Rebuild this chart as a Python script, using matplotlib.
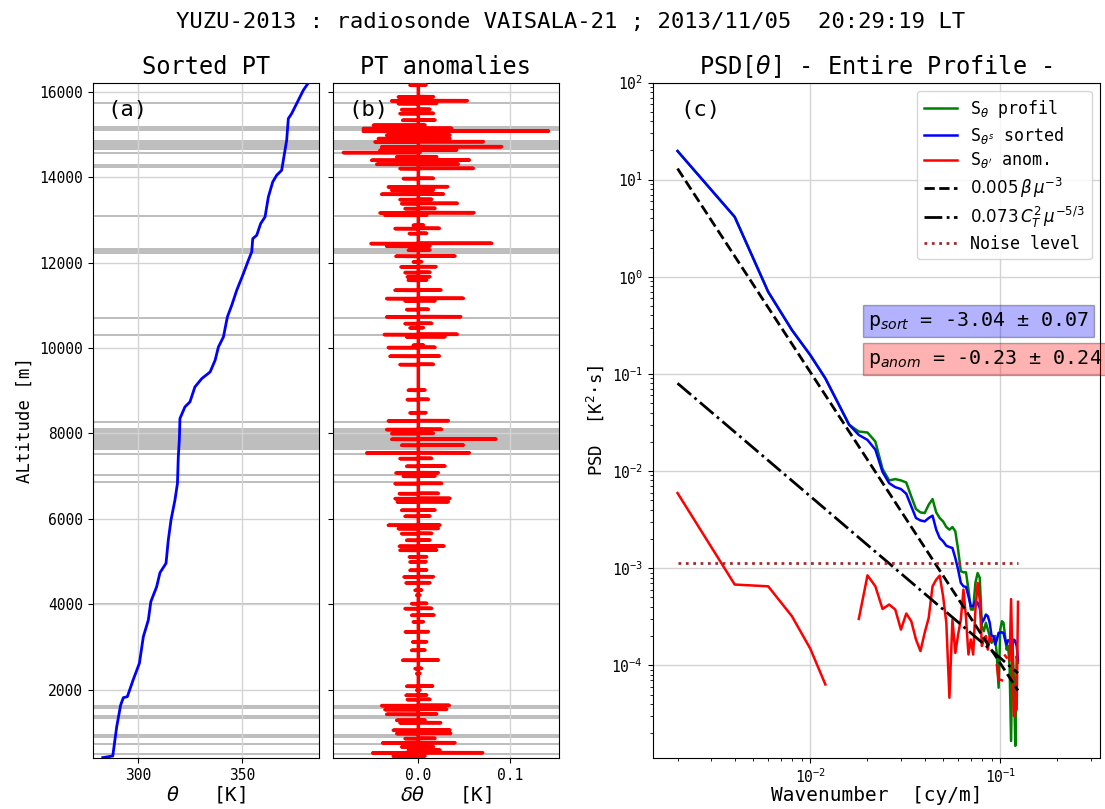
import numpy as np
import matplotlib
matplotlib.use('Agg')
import matplotlib.pyplot as plt
from matplotlib.ticker import LogLocator, NullFormatter

plt.rcParams['font.family'] = ['DejaVu Sans Mono', 'DejaVu Sans']

# ---------------- Panel (a): sorted potential temperature ----------------
alt_sorted = [410, 447, 1134, 1642, 1813, 1836, 2243, 2618, 3241, 3632, 4061, 4412,
              4740, 4960, 5506, 5974, 6443, 6833, 7450, 7848, 8351, 8623, 8740, 9091,
              9286, 9441, 9715, 10027, 10261, 10730, 11004, 11355, 11745, 12057, 12253,
              12564, 12642, 12916, 13072, 13540, 13892, 14048, 14165, 14399, 14867,
              15375, 15492, 15726, 15882, 16039, 16210]
theta_sorted = [282.9, 287.7, 289.6, 291.5, 292.8, 294.7, 297.6, 300.5, 302.4, 304.8,
                306.0, 308.8, 310.4, 313.3, 314.4, 315.7, 317.6, 318.8, 319.2, 319.7,
                320.0, 322.4, 324.8, 327.2, 330.5, 334.5, 336.9, 338.5, 340.9, 342.8,
                344.9, 347.3, 350.5, 352.9, 354.5, 355.0, 356.9, 358.8, 360.9, 362.5,
                364.6, 366.5, 368.9, 369.7, 371.3, 372.1, 373.7, 376.1, 377.7, 379.3,
                381.7]

# unstable layers (gray bands), bottom / top altitude [m]
band_bottom = [460, 700, 880, 1310, 1540, 3980, 6845, 7005, 7495, 7610, 8245, 10285,
               10675, 12200, 13075, 14210, 14550, 14650, 15080, 15720]
band_top = [510, 760, 960, 1410, 1640, 4020, 6895, 7055, 7545, 8117, 8295, 10335,
            10725, 12350, 13125, 14300, 14600, 14870, 15210, 15770]

# ---------------- Panel (b): PT anomalies (spike altitude, left, right) ----------------
spike_alt = [16158, 15884, 15791, 15728, 15588, 15494, 15338, 15221, 15143, 15080,
             14987, 14909, 14831, 14714, 14635, 14581, 14479, 14401, 14307, 14206,
             13972, 13777, 13699, 13605, 13480, 13386, 13269, 13168, 13113, 12879,
             12801, 12684, 12450, 12387, 12294, 12153, 12020, 11903, 11771, 11669,
             11591, 11357, 11162, 11107, 10904, 10732, 10576, 10475, 10319, 10264,
             10069, 10014, 9811, 9616, 9015, 8796, 8484, 8297, 8094, 8001, 7867,
             7726, 7546, 7414, 7234, 7078, 7000, 6828, 6594, 6477, 6399, 6204, 6063,
             5853, 5774, 5657, 5501, 5361, 5267, 5111, 4994, 4799, 4643, 4502, 4330,
             4213, 4018, 3901, 3745, 3589, 3355, 3120, 2925, 2691, 2496, 2379, 2082,
             1989, 1871, 1770, 1629, 1536, 1426, 1286, 1224, 1052, 974, 857, 755,
             662, 583, 521, 443]
spike_left = [-0.0091, -0.0218, -0.0291, -0.0218, -0.0182, -0.0200, -0.0171, -0.0490,
              -0.0600, -0.0600, -0.0345, -0.0436, -0.0473, -0.0400, -0.0418, -0.0818,
              -0.0236, -0.0509, -0.0454, -0.0200, -0.0164, -0.0327, -0.0290, -0.0400,
              -0.0200, -0.0182, -0.0145, -0.0418, -0.0364, -0.0055, -0.0254, -0.0098,
              -0.0516, -0.0345, -0.0109, -0.0244, -0.0055, -0.0189, -0.0145, -0.0120,
              -0.0109, -0.0254, -0.0345, -0.0145, -0.0127, -0.0345, -0.0145, -0.0091,
              -0.0371, -0.0127, -0.0055, -0.0327, -0.0309, -0.0200, -0.0109, -0.0120,
              -0.0091, -0.0327, -0.0345, -0.0290, -0.0290,
              -0.0182, -0.0563, -0.0200, -0.0127, -0.0244, -0.0164, -0.0254, -0.0207,
              -0.0254, -0.0229, -0.0182, -0.0145, -0.0327, -0.0218, -0.0182, -0.0127,
              -0.0207, -0.0200, -0.0098, -0.0091, -0.0091, -0.0156, -0.0134, -0.0036,
              -0.0018, -0.0073, -0.0145, -0.0073, -0.0055, -0.0142, -0.0062, -0.0073,
              -0.0171, -0.0036, -0.0018, -0.0127, -0.0018, -0.0134, -0.0120, -0.0400,
              -0.0364, -0.0345, -0.0236, -0.0200, -0.0273, -0.0236, -0.0145, -0.0389,
              -0.0182, -0.0109, -0.0498, -0.0273]
spike_right = [0.0084, 0.0164, 0.0534, 0.0200, 0.0127, 0.0164, 0.0182, 0.0073, 0.0364,
               0.1420, 0.0345, 0.0345, 0.0709, 0.0909, 0.0418, 0.0020, 0.0200, 0.0556,
               0.0436, 0.0600, 0.0164, 0.0320, 0.0164, 0.0273, 0.0145, 0.0425, 0.0182,
               0.0607, 0.0091, 0.0055, 0.0229, 0.0091, 0.0800, 0.0127, 0.0127, 0.0400,
               0.0036, 0.0193, 0.0127, 0.0127, 0.0091, 0.0247, 0.0491, 0.0182, 0.0109,
               0.0462, 0.0145, 0.0055, 0.0425, 0.0291, 0.0055, 0.0182, 0.0229, 0.0164,
               0.0073, 0.0109, 0.0084, 0.0327, 0.0254, 0.0164, 0.0847,
               0.0491, 0.0556, 0.0145, 0.0291, 0.0218, 0.0182, 0.0254, 0.0218, 0.0345,
               0.0327, 0.0182, 0.0127, 0.0236, 0.0218, 0.0145, 0.0127, 0.0280, 0.0200,
               0.0091, 0.0084, 0.0091, 0.0164, 0.0127, 0.0036, 0.0018, 0.0091, 0.0145,
               0.0171, 0.0055, 0.0109, 0.0091, 0.0073, 0.0218, 0.0036, 0.0018, 0.0156,
               0.0018, 0.0091, 0.0127, 0.0338, 0.0309, 0.0200, 0.0073, 0.0244, 0.0345,
               0.0353, 0.0182, 0.0400, 0.0164, 0.0236, 0.0702, 0.0073]
anom_start_end = [410, 16200]

# ---------------- Panel (c): spectra ----------------
wavenumber = np.round(np.arange(1, 63) * 0.002, 3)
psd_sorted = [19.7, 4.13, 0.70, 0.283, 0.156, 0.090, 0.050, 0.030, 0.0235, 0.0209,
              0.0166, 0.0098, 7.5e-3, 6.82e-3, 6.52e-3, 5.83e-3, 4.33e-3, 3.28e-3,
              3.10e-3, 3.03e-3, 3.28e-3, 3.47e-3, 2.49e-3, 2.04e-3, 1.89e-3, 1.70e-3,
              1.65e-3, 1.61e-3, 1.27e-3, 9.66e-4, 7.05e-4, 6.50e-4, 6.41e-4, 5.14e-4,
              4.06e-4, 4.06e-4, 4.56e-4, 4.39e-4, 3.90e-4, 2.74e-4, 2.95e-4, 3.33e-4,
              3.20e-4, 2.74e-4, 2.0e-4, 2.0e-4, 1.64e-4, 1.84e-4, 2.16e-4, 2.16e-4,
              2.19e-4, 2.14e-4, 1.84e-4, 1.64e-4, 1.81e-4, 1.77e-4, 1.70e-4, 1.64e-4,
              1.84e-4, 1.77e-4, 1.58e-4, 1.13e-4]
psd_profile = [19.7, 4.13, 0.70, 0.283, 0.156, 0.090, 0.050, 0.030, 0.0255, 0.0249,
               0.0201, 0.0105, 8.0e-3, 8.26e-3, 8.0e-3, 7.62e-3, 5.47e-3, 4.06e-3,
               3.75e-3, 3.69e-3, 4.50e-3, 5.14e-3, 3.75e-3, 3.28e-3, 3.03e-3, 2.65e-3,
               2.49e-3, 2.65e-3, 2.39e-3, 1.55e-3, 9.29e-4, 9.06e-4, 9.06e-4, 6.01e-4,
               3.75e-4, 3.75e-4, 7.08e-4, 8.91e-4, 7.94e-4, 2.52e-4, 2.24e-4, 2.74e-4,
               2.33e-4, 2.0e-4, 1.70e-4, 1.84e-4, 2.0e-4, 1.24e-4, 5.87e-5, 2.33e-4,
               2.84e-4, 2.74e-4, 2.0e-4, 1.45e-4, 1.58e-4, 9.8e-5, 1.66e-5, 1.70e-4,
               7.14e-5, 1.48e-5, 1.24e-4, 1.06e-4]
psd_anom = [5.93e-3, 6.78e-4, 6.50e-4, 3.20e-4, 1.48e-4, 6.35e-5, np.nan, np.nan,
            3.0e-4, 8.43e-4, 6.50e-4, 3.80e-4, 4.22e-4, 3.75e-4, 2.33e-4, 3.41e-4,
            2.84e-4, 1.84e-4, 1.40e-4, 2.16e-4, 3.08e-4, 6.50e-4, 7.62e-4, 8.38e-4,
            5.14e-4, 2.74e-4, 4.63e-5, 2.96e-4, 1.34e-4, 2.07e-4, 2.96e-4, 6.01e-4,
            3.08e-4, 1.29e-4, 1.84e-4, 1.29e-4, 3.75e-4, 7.05e-4, 4.75e-4, 1.58e-4,
            1.84e-4, 2.0e-4, 1.45e-4, 2.0e-4, 1.78e-4, np.nan, np.nan, 1.0e-4, 7.1e-5,
            7.1e-5, 7.0e-5, np.nan, 1.26e-4, 1.2e-4, np.nan, 1.12e-4, 4.8e-4, 1.0e-4,
            3.0e-5, 3.5e-5, 3.5e-5, 4.5e-4]
fit_k = [0.002, 0.124]
fit_beta = [13.0, 5.5e-5]
fit_ct2 = [0.080, 8.3e-5]
noise_level = 1.13e-3
p_sort = (-3.04, 0.07)
p_anom = (-0.23, 0.24)

# ---------------- Figure ----------------
W, H = 1105, 809
fig = plt.figure(figsize=(W / 100, H / 100), dpi=100)

def rect(x0, x1, y0, y1):
    return [x0 / W, 1 - y1 / H, (x1 - x0) / W, (y1 - y0) / H]

ax_a = fig.add_axes(rect(93, 318.7, 82.5, 758))
ax_b = fig.add_axes(rect(333.3, 558.7, 82.5, 758), sharey=ax_a)
ax_c = fig.add_axes(rect(652.7, 1100, 82.5, 758))

band_color = '#bebebe'
grid_kw = dict(color='#d3d3d3', lw=1.0)
tick_fs = 10.5

for ax in (ax_a, ax_b):
    for lo, hi in zip(band_bottom, band_top):
        ax.axhspan(lo, hi, color=band_color, lw=0, zorder=1)
    ax.grid(True, **grid_kw)
    ax.tick_params(labelsize=tick_fs)

# (a)
ax_a.plot(theta_sorted, alt_sorted, color='blue', lw=2, zorder=3)
ax_a.set_xlim(278.2, 386.7)
ax_a.set_ylim(400, 16220)
ax_a.set_xticks([300, 350])
ax_a.set_yticks(np.arange(2000, 16001, 2000))
ax_a.set_title('Sorted PT', fontsize=17)
ax_a.set_xlabel(r'$\theta$   [K]', fontsize=14, labelpad=1)
ax_a.set_ylabel('ALtitude [m]', fontsize=12.5)
ax_a.text(0.062, 0.96, '(a)', transform=ax_a.transAxes, fontsize=16, va='center')

# (b)
order = np.argsort(spike_alt)
b_alt = [anom_start_end[0]]
b_val = [0.0]
for i in order:
    a = spike_alt[i]
    b_alt += [a - 8, a - 3, a + 3, a + 8]
    b_val += [0.0, spike_left[i], spike_right[i], 0.0]
b_alt.append(anom_start_end[1])
b_val.append(0.0)
ax_b.plot(b_val, b_alt, color='red', lw=2.5, zorder=3, solid_joinstyle='round')
ax_b.set_xlim(-0.0927, 0.1531)
ax_b.set_xticks([0.0, 0.1])
ax_b.set_xticklabels(['0.0', '0.1'])
ax_b.tick_params(labelleft=False)
ax_b.set_title('PT anomalies', fontsize=17)
ax_b.set_xlabel(r'$\delta\theta$   [K]', fontsize=14, labelpad=1)
ax_b.text(0.066, 0.96, '(b)', transform=ax_b.transAxes, fontsize=16, va='center')

# (c)
ax_c.set_xscale('log')
ax_c.set_yscale('log')
ax_c.plot(wavenumber, psd_profile, color='green', lw=1.8, label=r'S$_\theta$ profil')
ax_c.plot(wavenumber, psd_sorted, color='blue', lw=1.8, label=r'S$_{\theta^s}$ sorted')
ax_c.plot(wavenumber, psd_anom, color='red', lw=1.8, label=r"S$_{\theta'}$ anom.")
ax_c.plot(fit_k, fit_beta, color='black', ls='--', lw=2,
          label=r'$0.005\,\beta\,\mu^{-3}$')
ax_c.plot(fit_k, fit_ct2, color='black', ls='-.', lw=2,
          label=r'$0.073\,C_T^2\,\mu^{-5/3}$')
ax_c.plot(fit_k, [noise_level, noise_level], color='brown', ls=':', lw=2,
          label='Noise level')
ax_c.set_xlim(0.00148, 0.335)
ax_c.set_ylim(1.11e-5, 100)
ax_c.yaxis.set_major_locator(LogLocator(base=10, numticks=20))
ax_c.yaxis.set_minor_locator(LogLocator(base=10, subs=np.arange(2, 10), numticks=20))
ax_c.yaxis.set_minor_formatter(NullFormatter())
ax_c.xaxis.set_minor_formatter(NullFormatter())
ax_c.grid(True, which='major', **grid_kw)
ax_c.tick_params(labelsize=tick_fs)
ax_c.set_title(r'PSD[$\theta$] - Entire Profile -', fontsize=17)
ax_c.set_xlabel('Wavenumber  [cy/m]', fontsize=14, labelpad=0)
ax_c.set_ylabel('PSD  [K$^2$·s]', fontsize=12.5)
ax_c.text(0.061, 0.96, '(c)', transform=ax_c.transAxes, fontsize=16, va='center')
ax_c.legend(loc='upper right', fontsize=12, labelspacing=0.3)

ax_c.text(0.4815, 0.647, 'p$_{sort}$ = %.2f ± %.2f' % p_sort, transform=ax_c.transAxes,
          fontsize=14.4, va='center', ha='left',
          bbox=dict(boxstyle='square,pad=0.25', facecolor='blue', alpha=0.3,
                    edgecolor='black'))
ax_c.text(0.4815, 0.590, 'p$_{anom}$ = %.2f ± %.2f' % p_anom, transform=ax_c.transAxes,
          fontsize=14.4, va='center', ha='left',
          bbox=dict(boxstyle='square,pad=0.25', facecolor='red', alpha=0.3,
                    edgecolor='black'))

fig.text(0.516, 0.973, 'YUZU-2013 : radiosonde VAISALA-21 ; 2013/11/05  20:29:19 LT',
         fontsize=16, ha='center', va='center')

fig.savefig('out.png', dpi=100)
